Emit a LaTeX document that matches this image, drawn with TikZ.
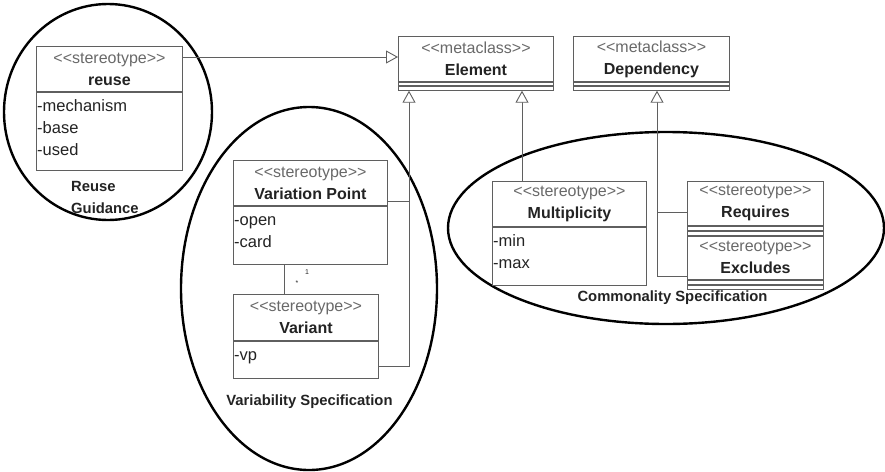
\documentclass[tikz,border=0pt]{standalone}
\usepackage{fontspec}
\setmainfont{Liberation Sans}
\usetikzlibrary{arrows.meta,shapes.geometric,positioning}
\definecolor{linegray}{RGB}{95,95,95}
\definecolor{stgray}{RGB}{105,105,105}
\definecolor{namegray}{RGB}{35,35,35}
\newcommand{\stereo}[1]{{\color{stgray}<\kern0pt<#1>\kern0pt>}}

\tikzset{
  classhead/.style={draw=linegray, line width=0.9pt, fill=white, anchor=north west, inner sep=0pt,
    align=center, text=namegray, font=\fontsize{16}{22}\selectfont},
  classbody/.style={draw=linegray, line width=0.9pt, fill=white, anchor=north west, inner sep=0pt},
  attrs/.style={anchor=north west, align=left, inner xsep=1pt, inner ysep=4pt, text=namegray,
    font=\fontsize{16.5}{22}\selectfont},
  zone/.style={draw=black, line width=2.4pt, ellipse, inner sep=0pt},
  zonelabel/.style={text=namegray, inner sep=0pt, font=\fontsize{14.8}{22}\selectfont\bfseries},
  multlabel/.style={text=namegray, inner sep=0pt, font=\fontsize{7}{8}\selectfont},
  link/.style={draw=linegray, line width=0.9pt},
  inherit/.style={link, -{Triangle[open, length=12pt, width=13pt, fill=white]}}
}

\begin{document}
\begin{tikzpicture}[x=1pt,y=-1pt]
\useasboundingbox (0,0) rectangle (885,471);

\node[zone, minimum width=208pt, minimum height=216pt] (reusezone) at (108,112) {};
\node[zone, minimum width=256pt, minimum height=363pt] (varzone) at (309,288.5) {};
\node[zone, minimum width=436pt, minimum height=192pt] (comzone) at (666,228) {};

\node[classhead, minimum width=155pt, minimum height=45pt] (elem) at (398,36) {\stereo{metaclass}\\\textbf{Element}};
\node[classbody, minimum width=155pt, minimum height=3pt] (elemattr) at (elem.south west) {};
\node[classbody, minimum width=155pt, minimum height=4pt] (elemops) at (elemattr.south west) {};

\node[classhead, minimum width=156pt, minimum height=45pt] (dep) at (573,36) {\stereo{metaclass}\\\textbf{Dependency}};
\node[classbody, minimum width=156pt, minimum height=3pt] (depattr) at (dep.south west) {};
\node[classbody, minimum width=156pt, minimum height=4pt] (depops) at (depattr.south west) {};

\node[classhead, minimum width=146pt, minimum height=45pt] (reuse) at (36,46) {\stereo{stereotype}\\\textbf{reuse}};
\node[classbody, minimum width=146pt, minimum height=78pt] (reusebody) at (reuse.south west) {};
\node[attrs] at (reusebody.north west) {\strut-mechanism\\-base\\-used};

\node[classhead, minimum width=154pt, minimum height=45pt] (vp) at (233,160) {\stereo{stereotype}\\\textbf{Variation Point}};
\node[classbody, minimum width=154pt, minimum height=58pt] (vpbody) at (vp.south west) {};
\node[attrs] at (vpbody.north west) {\strut-open\\-card};

\node[classhead, minimum width=145pt, minimum height=46pt] (variant) at (233,294) {\stereo{stereotype}\\\textbf{Variant}};
\node[classbody, minimum width=145pt, minimum height=37pt] (variantbody) at (variant.south west) {};
\node[attrs] at (variantbody.north west) {\strut-vp};

\node[classhead, minimum width=154pt, minimum height=45pt] (mult) at (492,181) {\stereo{stereotype}\\\textbf{Multiplicity}};
\node[classbody, minimum width=154pt, minimum height=58pt] (multbody) at (mult.south west) {};
\node[attrs] at (multbody.north west) {\strut-min\\-max};

\node[classhead, minimum width=136pt, minimum height=44pt] (req) at (687,181) {\stereo{stereotype}\\\textbf{Requires}};
\node[classbody, minimum width=136pt, minimum height=4pt] (reqattr) at (req.south west) {};
\node[classbody, minimum width=136pt, minimum height=4pt] (reqops) at (reqattr.south west) {};

\node[classhead, minimum width=136pt, minimum height=43pt] (excl) at (reqops.south west) {\stereo{stereotype}\\\textbf{Excludes}};
\node[classbody, minimum width=136pt, minimum height=4pt] (exclattr) at (excl.south west) {};
\node[classbody, minimum width=136pt, minimum height=4pt] (exclops) at (exclattr.south west) {};

\coordinate (elemleg) at ([xshift=11pt]elemops.south west);
\coordinate (elemright) at ([xshift=124pt]elemops.south west);
\coordinate (depleg) at ([xshift=84pt]depops.south west);

\draw[inherit] ([yshift=-11pt]reuse.north east) -- ([yshift=-11pt]reuse.north east -| elem.west);
\draw[inherit] ([yshift=-26pt]variantbody.north east) -| (elemleg);
\draw[link] ([yshift=-41pt]vp.north east) -- ([yshift=-41pt]vp.north east -| elemleg);
\draw[link] ([xshift=51pt]vpbody.south west) -- ([xshift=51pt]vpbody.south west |- variant.north);
\node[multlabel] at (307,272) {1};
\node[multlabel] at (297,283) {*};
\draw[inherit] (mult.north -| elemright) -- (elemright);
\draw[inherit] ([yshift=-41pt]excl.north west) -| (depleg);
\draw[link] ([yshift=-31pt]req.north west) -- ([yshift=-31pt]req.north west -| depleg);

\node[zonelabel, anchor=west, align=left] (reuselabel) at (71,197) {Reuse\\Guidance};
\node[zonelabel] (varlabel) at (309.5,402) {Variability Specification};
\node[zonelabel] (comlabel) at (672.5,298) {Commonality Specification};
\end{tikzpicture}
\end{document}
